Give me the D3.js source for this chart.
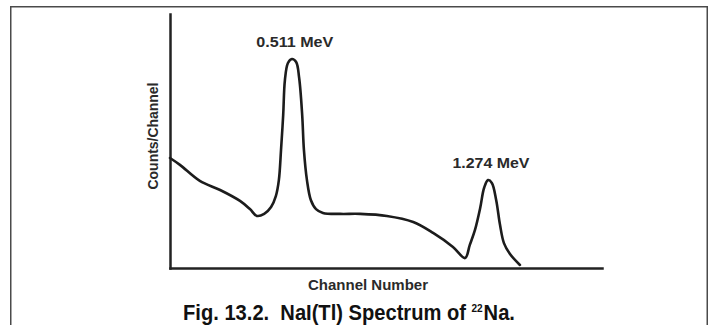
<!DOCTYPE html>
<html>
<head>
<meta charset="utf-8">
<script src="https://cdn.jsdelivr.net/npm/d3@7/dist/d3.min.js"></script>
<style>
  html, body { margin: 0; padding: 0; background: #fff; }
  svg { display: block; }
</style>
</head>
<body>
<div id="chart"></div>
<script>
// NaI(Tl) spectrum of 22Na (arbitrary units)
const channels = [0, 23, 69, 116, 162, 185, 201, 218, 234, 245, 252, 257, 262, 266, 273, 282,
  292, 299, 306, 310, 317, 326, 338, 354, 394, 440, 502, 563, 609, 655, 683,
  694, 706, 718, 727, 736, 745, 755, 764, 773, 787, 810];
const counts = [433, 406, 343, 307, 264, 232, 205, 213, 240, 283, 346, 465, 602, 740, 807, 823,
  811, 748, 602, 465, 346, 268, 232, 217, 213, 213, 205, 181, 138, 83, 39,
  91, 150, 236, 315, 346, 335, 268, 169, 98, 55, 12];
const peakLabels = ["0.511 MeV", "1.274 MeV"];
const peakChannels = [282, 736];
const peakCounts = [823, 346];

(function () {
    const W = 710, H = 325;
    const svg = d3.select("#chart").append("svg")
        .attr("width", W)
        .attr("height", H);

    // frame around the figure
    svg.append("rect")
        .attr("x", 10.75)
        .attr("y", 6.75)
        .attr("width", 696.5)
        .attr("height", 330)
        .attr("fill", "none")
        .attr("stroke", "#4a4a4a")
        .attr("stroke-width", 1.5);

    const x = d3.scaleLinear().domain([0, 1000]).range([170, 602]);
    const y = d3.scaleLinear().domain([0, 1000]).range([268, 14]);

    const labelFont = "'Liberation Sans', Arial, sans-serif";

    // axes: plain lines, no ticks
    const xAxis = svg.append("g")
        .attr("transform", `translate(0, ${y(0)})`)
        .call(d3.axisBottom(x).ticks(0).tickSizeOuter(0));
    const yAxis = svg.append("g")
        .attr("transform", `translate(${x(0)}, 0)`)
        .call(d3.axisLeft(y).ticks(0).tickSizeOuter(0));
    [xAxis, yAxis].forEach(a => a.select(".domain")
        .attr("stroke", "#222")
        .attr("stroke-width", 2.5)
        .attr("stroke-linecap", "square"));

    const data = channels.map((c, i) => ({ c, v: counts[i] }));
    const line = d3.line()
        .x(d => x(d.c))
        .y(d => y(d.v))
        .curve(d3.curveCatmullRom.alpha(0.5));

    svg.append("path")
        .datum(data)
        .attr("d", line)
        .attr("fill", "none")
        .attr("stroke", "#1c1c1c")
        .attr("stroke-width", 2.6)
        .attr("stroke-linejoin", "round")
        .attr("stroke-linecap", "round");

    // peak energy labels
    peakLabels.forEach((t, i) => {
        svg.append("text")
            .attr("x", x(peakChannels[i]) + 3)
            .attr("y", y(peakCounts[i]) - 12)
            .attr("text-anchor", "middle")
            .attr("font-family", labelFont)
            .attr("font-size", 15)
            .attr("font-weight", 600)
            .attr("fill", "#2a2a2a")
            .attr("textLength", 77)
            .attr("lengthAdjust", "spacingAndGlyphs")
            .text(t);
    });

    // axis titles
    svg.append("text")
        .attr("transform", `translate(158, ${(y(0) + y(1000)) / 2 - 5}) rotate(-90)`)
        .attr("text-anchor", "middle")
        .attr("font-family", labelFont)
        .attr("font-size", 14)
        .attr("font-weight", 600)
        .attr("fill", "#2a2a2a")
        .attr("textLength", 107)
        .attr("lengthAdjust", "spacingAndGlyphs")
        .text("Counts/Channel");

    svg.append("text")
        .attr("x", 368)
        .attr("y", 290)
        .attr("text-anchor", "middle")
        .attr("font-family", labelFont)
        .attr("font-size", 14)
        .attr("font-weight", 600)
        .attr("fill", "#2a2a2a")
        .attr("textLength", 120)
        .attr("lengthAdjust", "spacingAndGlyphs")
        .text("Channel Number");

    // figure caption - squeeze horizontally to get the condensed bold look
    const capG = svg.append("g");
    const cap = capG.append("text")
        .attr("text-anchor", "middle")
        .attr("font-family", "'Liberation Sans', Arial, sans-serif")
        .attr("font-size", 22)
        .attr("font-weight", "bold")
        .attr("fill", "#111")
        .attr("xml:space", "preserve")
        .style("white-space", "pre");
    cap.append("tspan").text("Fig. 13.2.  NaI(Tl) Spectrum of ");
    cap.append("tspan").attr("font-size", 11).attr("dy", -8).text("22");
    cap.append("tspan").attr("dy", 8).attr("dx", 1).text("Na.");
    const capW = cap.node().getBBox().width;
    capG.attr("transform", `translate(349, 320) scale(${332 / capW}, 1)`);
})();
</script>
</body>
</html>
